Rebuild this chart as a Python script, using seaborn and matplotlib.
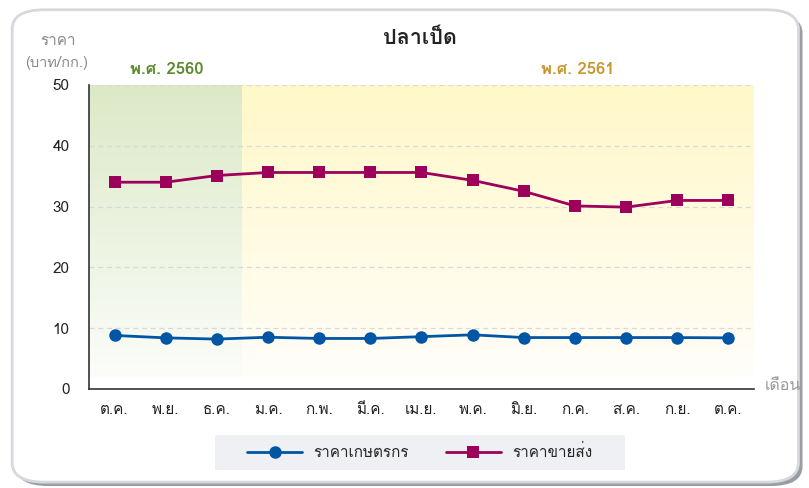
import numpy as np
import pandas as pd
import seaborn as sns
import matplotlib.pyplot as plt
from matplotlib import font_manager
from matplotlib.colors import LinearSegmentedColormap
from matplotlib.patches import FancyBboxPatch, Rectangle
from fontTools.ttLib import TTFont

# data
months = ['ต.ค.', 'พ.ย.', 'ธ.ค.', 'ม.ค.', 'ก.พ.', 'มี.ค.', 'เม.ย.',
          'พ.ค.', 'มิ.ย.', 'ก.ค.', 'ส.ค.', 'ก.ย.', 'ต.ค.']
farm_price = [8.8, 8.4, 8.2, 8.5, 8.3, 8.3, 8.6, 8.9, 8.45, 8.45, 8.45, 8.45, 8.4]
wholesale_price = [34.0, 34.0, 35.1, 35.6, 35.6, 35.6, 35.6, 34.3, 32.5, 30.1, 29.9, 31.0, 31.0]
series_names = ['ราคาเกษตรกร', 'ราคาขายส่ง']
year_labels = ['พ.ศ. 2560', 'พ.ศ. 2561']
n_2560 = 3


def thai_font():
    # pick an installed family that has Thai glyphs
    for f in font_manager.fontManager.ttflist:
        try:
            cmap = TTFont(f.fname, fontNumber=0, lazy=True).getBestCmap()
        except Exception:
            continue
        if cmap and 0x0E1B in cmap:
            return f.name
    return 'DejaVu Sans'


sns.set_style('white')
plt.rcParams['font.family'] = [thai_font(), 'DejaVu Sans']

df = pd.DataFrame({
    'x': list(range(len(months))) * 2,
    'price': farm_price + wholesale_price,
    'series': [series_names[0]] * len(months) + [series_names[1]] * len(months),
})

fig = plt.figure(figsize=(8.09, 4.88), dpi=100, facecolor='white')

# card with shadow, legend panel
fig.patches.append(FancyBboxPatch((0.020, 0.004), 0.972, 0.968, boxstyle='round,pad=0,rounding_size=0.04',
                                  transform=fig.transFigure, facecolor='#9a9ea3', edgecolor='none', zorder=-3))
fig.patches.append(FancyBboxPatch((0.015, 0.012), 0.972, 0.968, boxstyle='round,pad=0,rounding_size=0.04',
                                  transform=fig.transFigure, facecolor='white', edgecolor='#d5d9de',
                                  linewidth=2, zorder=-2))
fig.patches.append(Rectangle((0.266, 0.037), 0.506, 0.072, transform=fig.transFigure,
                             facecolor='#eef0f3', edgecolor='none', zorder=-1))

ax = fig.add_axes([0.110, 0.203, 0.822, 0.623])
ax.set_facecolor('none')

# shaded year backgrounds
green = LinearSegmentedColormap.from_list('g', ['#fbfdf9', '#dce9c7'])
yellow = LinearSegmentedColormap.from_list('y', ['#fffef9', '#fff8c8'])
grad = np.linspace(0, 1, 256).reshape(-1, 1)
ax.imshow(grad, cmap=green, origin='lower', aspect='auto', extent=(-0.5, n_2560 - 0.5, 2, 50), zorder=0)
ax.imshow(grad, cmap=yellow, origin='lower', aspect='auto',
          extent=(n_2560 - 0.5, len(months) - 0.5, 2, 50), zorder=0)

for y in range(10, 51, 10):
    ax.axhline(y, color='#d9d9d9', linestyle=(0, (4, 3)), linewidth=0.9, zorder=1)

sns.lineplot(data=df, x='x', y='price', hue='series', style='series',
             palette=['#0055a5', '#9c005a'], markers=['o', 's'], dashes=False,
             linewidth=2, markersize=9, markeredgewidth=0, ax=ax, zorder=3)

ax.set_xlim(-0.5, len(months) - 0.5)
ax.set_ylim(0, 50)
ax.set_yticks(range(0, 51, 10))
ax.set_xticks(np.arange(-0.5, len(months), 1))
ax.set_xticklabels([])
ax.set_xticks(range(len(months)), minor=True)
ax.set_xticklabels(months, minor=True)
ax.tick_params(axis='x', which='major', direction='out', length=10.5, width=1, color='#333333')
ax.tick_params(axis='x', which='minor', length=0, pad=10, labelsize=11, labelcolor='#222222')
ax.tick_params(axis='y', direction='out', length=10.5, width=1, color='#333333', labelsize=11,
               labelcolor='#222222')
for side in ['top', 'right']:
    ax.spines[side].set_visible(False)
for side in ['left', 'bottom']:
    ax.spines[side].set_color('#333333')
    ax.spines[side].set_linewidth(1.2)
ax.set_xlabel('')
ax.set_ylabel('')

# titles and labels
fig.text(0.519, 0.923, 'ปลาเป็ด', ha='center', va='center', fontsize=15.5, fontweight='bold', color='#222222')
fig.text(0.072, 0.916, 'ราคา', ha='center', va='center', fontsize=11, color='#8a8a8a')
fig.text(0.070, 0.871, '(บาท/กก.)', ha='center', va='center', fontsize=10.5, color='#8a8a8a')
fig.text(0.206, 0.857, year_labels[0], ha='center', va='center', fontsize=12, fontweight='bold',
         color='#5a8a2a')
fig.text(0.714, 0.857, year_labels[1], ha='center', va='center', fontsize=12, fontweight='bold',
         color='#c8962e')
fig.text(0.968, 0.209, 'เดือน', ha='center', va='center', fontsize=11.5, color='#9a9a9a')

handles, labels = ax.get_legend_handles_labels()
ax.legend_.remove()
fig.legend(handles, labels, loc='center', bbox_to_anchor=(0.519, 0.073), ncol=2,
           frameon=False, fontsize=11, handlelength=3.6, handletextpad=0.75,
           columnspacing=2.4, borderaxespad=0)

fig.savefig('out.png', dpi=100, facecolor=fig.get_facecolor())
